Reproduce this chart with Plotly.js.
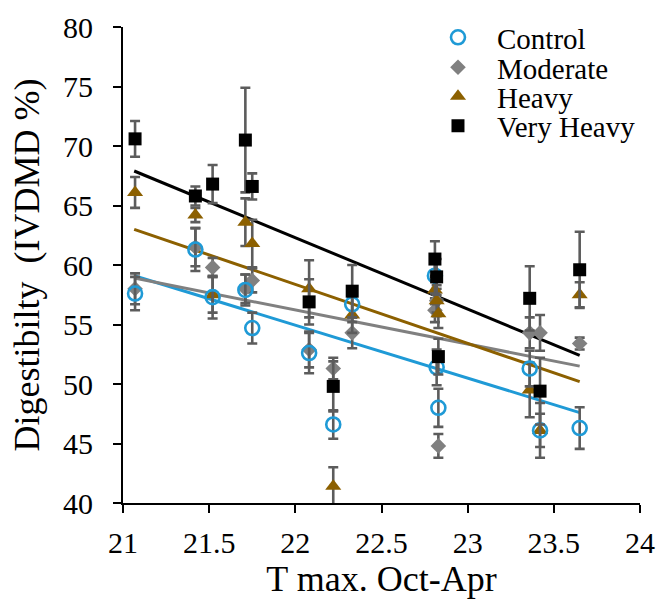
<!DOCTYPE html>
<html>
<head>
<meta charset="utf-8">
<script src="https://cdn.plot.ly/plotly-3.0.1.min.js"></script>
<style>html,body{margin:0;padding:0;background:#fff;}#chart{width:657px;height:599px;}</style>
</head>
<body>
<div id="chart"></div>
<script>
// T max. Oct-Apr for each site
const tmax = [21.07, 21.42, 21.52, 21.71, 21.75, 22.08, 22.22, 22.33, 22.81, 22.82, 22.83, 23.36, 23.42, 23.65];

// Digestibility (IVDMD %) by grazing level
const control   = [57.6, 61.3, 57.3, 57.9, 54.7, 52.6, 46.6, 56.7, 59.1, 51.4, 48.0, 51.3, 46.1, 46.3];
const moderate  = [58.0, 61.5, 59.8, 58.0, 58.7, 52.9, 51.3, 54.3, 56.2, 57.0, 44.8, 54.3, 54.3, 53.4];
const heavy     = [66.1, 64.2, 57.5, 63.6, 61.8, 58.0, 41.4, 55.8, 57.9, 57.0, 55.9, 49.5, 46.1, 57.5];
const veryHeavy = [70.6, 65.8, 66.8, 70.5, 66.6, 56.9, 49.8, 57.8, 60.5, 59.0, 52.3, 57.2, 49.4, 59.6];

// error bar half-widths
const controlErr   = [1.4, 1.8, 1.8, 1.3, 1.3, 1.7, 1.2, 1.5, 1.5, 1.5, 1.6, 1.5, 1.4, 1.75];
const moderateErr  = [1.3, 1.6, 0.8, 1.2, 1.0, 1.5, 0.9, 1.3, 1.0, 1.3, 1.0, 1.3, 1.5, 0.5];
const heavyErr     = [1.3, 0.6, 1.5, 2.0, 2.0, 2.4, 1.6, 1.5, 1.2, 1.0, 1.2, 2.3, 2.3, 1.05];
const veryHeavyErr = [1.5, 0.8, 1.6, 4.4, 1.1, 1.9, 2.1, 2.2, 1.5, 1.5, 1.5, 2.7, 2.8, 3.2];

// linear trend line end points [start, end]
const trendX         = [21.065, 23.65];
const controlTrend   = [59.1, 47.6];
const moderateTrend  = [58.9, 51.5];
const heavyTrend     = [63.0, 50.2];
const veryHeavyTrend = [67.9, 52.4];

const xTicks = [21, 21.5, 22, 22.5, 23, 23.5, 24];
const xTickText = ["21", "21.5", "22", "22.5", "23", "23.5", "24"];
const yTicks = [40, 45, 50, 55, 60, 65, 70, 75, 80];

const C_BLUE = '#1F9AD6', C_GRAY = '#808080', C_BROWN = '#8C6000', C_BLACK = '#000000';
const ERR = {type: 'data', visible: true, color: '#5c5c5c', thickness: 2.6, width: 5};
const FONT = "'Liberation Serif', 'Times New Roman', Times, serif";

function trend(y, color) {
  return {x: trendX, y: y, mode: 'lines', line: {color: color, width: 3}, showlegend: false, hoverinfo: 'skip'};
}
function pts(name, y, err, marker, leg) {
  return {x: tmax, y: y, name: name, mode: 'markers', marker: marker, legend: leg, showlegend: true,
          error_y: Object.assign({array: err}, ERR)};
}

const data = [
  trend(controlTrend, C_BLUE),
  trend(moderateTrend, C_GRAY),
  trend(heavyTrend, C_BROWN),
  trend(veryHeavyTrend, C_BLACK),
  pts('Moderate', moderate, moderateErr, {symbol: 'diamond', size: 12, color: C_GRAY}, 'legend2'),
  pts('Heavy', heavy, heavyErr, {symbol: 'triangle-up', size: 14, color: C_BROWN}, 'legend3'),
  pts('Control', control, controlErr, {symbol: 'circle-open', size: 14, color: C_BLUE, line: {width: 2.6, color: C_BLUE}}, 'legend'),
  pts('Very Heavy', veryHeavy, veryHeavyErr, {symbol: 'square', size: 13, color: C_BLACK}, 'legend4')
];

function leg(y) {
  return {x: 0.5725, y: y, xanchor: 'left', yanchor: 'middle', itemwidth: 68, itemsizing: 'trace',
          font: {family: FONT, size: 29, color: '#000'}, bgcolor: 'rgba(0,0,0,0)', borderwidth: 0};
}

const layout = {
  width: 657, height: 599,
  margin: {l: 123, r: 17, t: 27, b: 96},
  paper_bgcolor: '#fff', plot_bgcolor: '#fff',
  font: {family: FONT, size: 30, color: '#000'},
  showlegend: true,
  legend: leg(0.978),
  legend2: leg(0.915),
  legend3: leg(0.854),
  legend4: leg(0.792),
  xaxis: {
    range: [21, 24], tickvals: xTicks, ticktext: xTickText,
    showgrid: false, zeroline: false, showline: true, linecolor: '#000', linewidth: 2,
    ticks: 'outside', ticklen: 8, tickwidth: 2, tickcolor: '#000', ticklabelstandoff: 4,
    tickfont: {family: FONT, size: 30, color: '#000'},
    title: {text: 'T max. Oct-Apr', font: {family: FONT, size: 36, color: '#000'}, standoff: 8}
  },
  yaxis: {
    range: [40, 80], tickvals: yTicks,
    showgrid: false, zeroline: false, showline: true, linecolor: '#000', linewidth: 2,
    ticks: 'outside', ticklen: 8, tickwidth: 2, tickcolor: '#000', ticklabelstandoff: 14,
    tickfont: {family: FONT, size: 30, color: '#000'},
    title: {text: 'Digestibilty  (IVDMD %)', font: {family: FONT, size: 36, color: '#000'}, standoff: 12}
  }
};

Plotly.newPlot('chart', data, layout, {displayModeBar: false, staticPlot: true});
</script>
</body>
</html>
